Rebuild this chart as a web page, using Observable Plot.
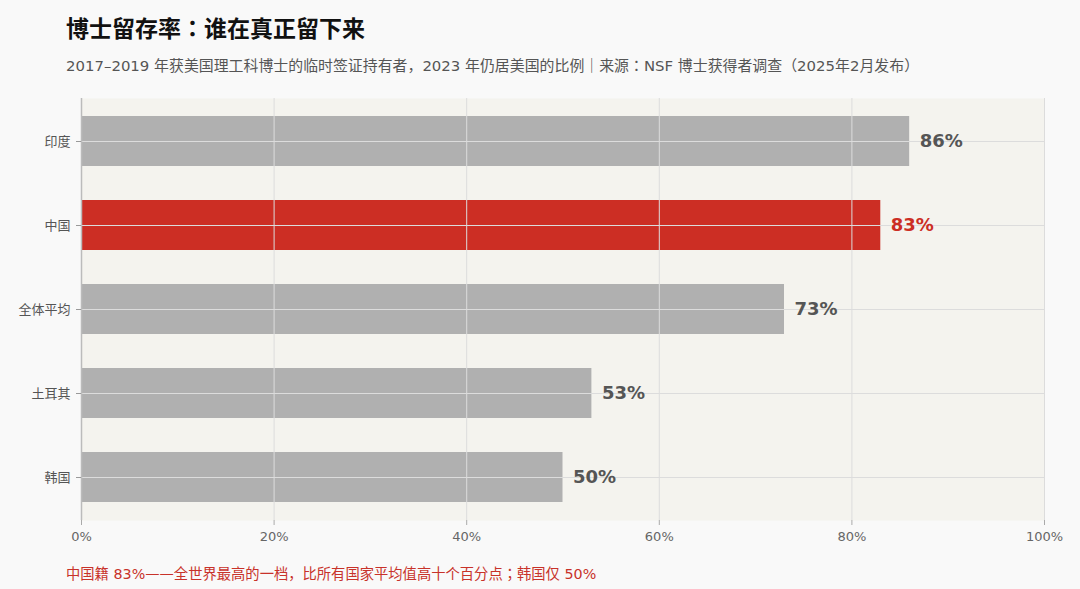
<!DOCTYPE html>
<html><head><meta charset="utf-8">
<script src="https://cdn.jsdelivr.net/npm/d3@7"></script>
<script src="https://cdn.jsdelivr.net/npm/@observablehq/plot@0.6"></script>
<style>
body{margin:0;background:#f9f9f9;font-family:"DejaVu Sans","Noto Sans CJK SC",sans-serif;width:1080px;height:589px;position:relative;overflow:hidden}
.p{font-family:"Noto Sans CJK JP",sans-serif}
#t{position:absolute;left:66px;top:10px;font-size:23px;font-weight:bold;color:#111;font-family:"Noto Sans CJK SC",sans-serif;white-space:nowrap}
#s{position:absolute;left:66px;top:54px;font-size:14.9px;color:#555;white-space:nowrap}
#c{position:absolute;left:66px;top:562px;font-size:14.3px;color:#c8322a;white-space:nowrap}
#p{position:absolute;left:0;top:88px}
</style></head><body>
<div id="t"></div>
<div id="s"></div>
<div id="p"></div>
<div id="c"></div>
<script>
const titleText = "博士留存率：谁在真正留下来";
const subtitleText = "2017–2019 年获美国理工科博士的临时签证持有者，2023 年仍居美国的比例｜来源：NSF 博士获得者调查（2025年2月发布）";
const captionText = "中国籍 83%——全世界最高的一档，比所有国家平均值高十个百分点；韩国仅 50%";
const countries = ["印度","中国","全体平均","土耳其","韩国"];
const rates = [86, 83, 73, 53, 50];
const highlight = "中国";
const xTicks = [0,20,40,60,80,100];

// full-width punctuation in a font that centres it like the reference
const punct = "，；：｜（）";
function fill(id, text){
  const el = document.getElementById(id);
  for (const ch of text){
    if (punct.includes(ch)){
      const s = document.createElement("span");
      s.className = "p";
      s.textContent = ch;
      el.appendChild(s);
    } else {
      el.appendChild(document.createTextNode(ch));
    }
  }
}
fill("t", titleText); fill("s", subtitleText); fill("c", captionText);

const data = countries.map((c,i)=>({country:c, rate:rates[i]}));
const red = "#cc2e24", gray = "#b0b0b0";
const chart = Plot.plot({
  width:1080, height:470,
  marginTop:10, marginBottom:38, marginLeft:81, marginRight:36,
  style:{fontFamily:'"DejaVu Sans","Noto Sans CJK SC",sans-serif', background:"transparent"},
  x:{domain:[0,100], ticks:xTicks, tickFormat:d=>d+"%", label:null},
  y:{domain:countries, paddingInner:0.4, paddingOuter:0.2, label:null},
  marks:[
    Plot.frame({fill:"#f4f3ee", stroke:null}),
    Plot.barX(data,{y:"country", x:"rate", fill:d=>d.country===highlight?red:gray}),
    Plot.gridX(xTicks,{stroke:"#dcdcdc", strokeOpacity:1, strokeWidth:1}),
    Plot.gridY(countries,{stroke:"#dcdcdc", strokeOpacity:1, strokeWidth:1}),
    Plot.ruleX([0],{stroke:"#bbb", strokeWidth:1.5}),
    Plot.ruleY([0],{frameAnchor:"bottom", stroke:"#bbb", strokeWidth:1.5}),
    Plot.axisX({ticks:xTicks, tickFormat:d=>d+"%", tickSize:5, stroke:"#aaa", fill:"#666", fontSize:13, tickPadding:6, label:null}),
    Plot.axisY({tickSize:5, stroke:"#999", fill:"#555", fontSize:13, tickPadding:6, label:null}),
    Plot.text(data,{y:"country", x:"rate", text:d=>d.rate+"%", dx:10, textAnchor:"start", fontSize:18, fontWeight:"bold", fill:d=>d.country===highlight?red:"#555"})
  ]
});
document.getElementById("p").appendChild(chart);
</script>
</body></html>
